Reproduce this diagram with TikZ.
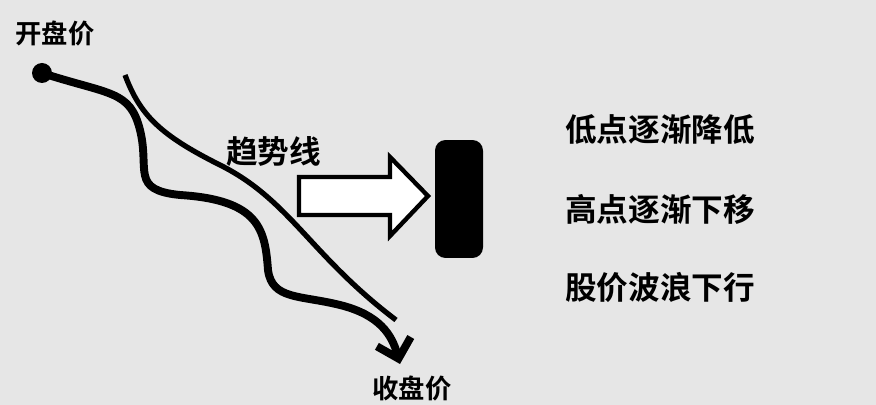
\documentclass[tikz,border=0pt]{standalone}
\usepackage{fontspec}
\setmainfont{Noto Sans CJK SC}[BoldFont={Noto Sans CJK SC Bold}]
\usepackage{tikz}
\usetikzlibrary{arrows.meta, positioning, calc}
\definecolor{bggray}{HTML}{E6E6E6}

\begin{document}
\begin{tikzpicture}[
  x=0.02cm, y=-0.02cm,
  lbl/.style={font=\bfseries\fontsize{15}{18}\selectfont, inner sep=0pt},
  note/.style={font=\bfseries\fontsize{18}{22}\selectfont, inner sep=0pt, anchor=west},
  wave/.style={line width=4.5pt, line cap=round},
  trend/.style={line width=3pt}
]

% Hintergrund
\fill[bggray] (0,0) rectangle (876,405);

% Beschriftungen
\node[lbl] (open) at (55,33) {开盘价};
\node[lbl] (close) at (412,388) {收盘价};
\node[note] (trendlbl) at (226,152) {趋势线};

% Kursverlauf
\fill (42,73) circle (10);
\coordinate (start) at (42,73);
\coordinate (tip) at (400,364);
\draw[wave, -{Straight Barb[length=10pt, width=20pt]}] (start)
  .. controls (110,95) and (130,90) .. (140,130)
  .. controls (150,170) and (130,190) .. (180,195)
  .. controls (260,200) and (265,230) .. (268,270)
  .. controls (272,300) and (300,295) .. (340,305)
  .. controls (380,315) and (392,335) .. (tip);

% Trendlinie
\coordinate (tA) at (125,75);
\coordinate (tB) at (396,320);
\draw[trend] (tA) .. controls (140,115) and (160,135) .. (220,165)
  .. controls (290,200) and (310,255) .. (tB);

% Blockpfeil
\draw[line width=2.5pt, fill=white] (299,177) -- (390,177) -- (390,157) -- (428,196)
  -- (390,236) -- (390,215) -- (299,215) -- cycle;

% Kerze
\node[fill=black, rounded corners=6pt, minimum width=0.96cm,
  minimum height=2.36cm, inner sep=0pt] (candle) at (459,199) {};

% Merkmale
\node[note] (n1) at (565,130) {低点逐渐降低};
\node[note] (n2) at (565,209) {高点逐渐下移};
\node[note] (n3) at (565,287) {股价波浪下行};

\end{tikzpicture}
\end{document}
